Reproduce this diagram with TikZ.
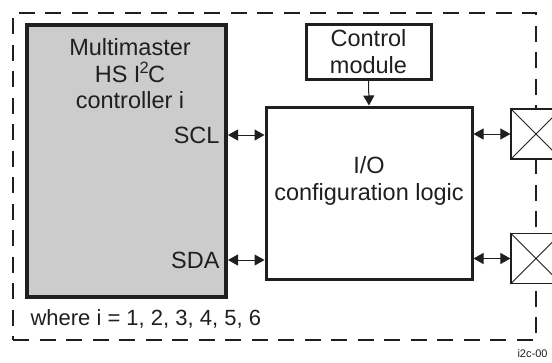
\documentclass[tikz,border=0pt]{standalone}
\usepackage{fontspec}
\setmainfont{Liberation Sans}
\usepackage{tikz}
\usetikzlibrary{arrows.meta, positioning}

\begin{document}
\begin{tikzpicture}[
    x=1pt, y=-1pt,
    font=\fontsize{23.5}{26.5}\selectfont,
    text=black!88,
    block/.style={draw=black!88, line width=3pt, minimum width=#1, inner sep=0pt},
    pad/.style={draw=black!88, fill=white, line width=1.2pt, minimum width=50pt,
        minimum height=50pt, inner sep=0pt},
    biarrow/.style={{Triangle[length=10pt,width=11pt]}-{Triangle[length=10pt,width=11pt]},
        line width=1pt, draw=black!88},
    arrow/.style={-{Triangle[length=10pt,width=11pt]}, line width=1pt, draw=black!88}
]
\useasboundingbox (0,0) rectangle (552,362);

% Dashed boundary
\node[draw=black!88, line width=1.8pt, dash pattern=on 16pt off 10.5pt,
    minimum width=523pt, minimum height=327pt] (frame) at (274.5,176.5) {};

% Controller
\node[block=199pt, line width=4pt, fill=black!20, minimum height=272pt] (ctrl) at (126.5,161) {};
\node[align=center] (ctrltxt) at (130,74) {Multimaster\\HS I\kern-1pt\textsuperscript{2}\kern-1ptC\\controller i};
\node[anchor=east] (scl) at (223,135) {SCL};
\node[anchor=east] (sda) at (223,260) {SDA};

% Control module and I/O logic
\node[block=125pt, minimum height=55pt, align=center] (ctrlmod) at (368.5,51.5) {Control\\module};
\node[block=206pt, minimum height=172pt] (io) at (369,193) {};
\node[align=center] (iotxt) at (369,181) {I/O\\configuration logic};

% Pads
\node[pad] (padA) at (536,134) {};
\node[pad] (padB) at (536,258.5) {};
\draw[line width=1pt, draw=black!88] (padA.north west) -- (padA.south east) (padA.south west) -- (padA.north east);
\draw[line width=1pt, draw=black!88] (padB.north west) -- (padB.south east) (padB.south west) -- (padB.north east);

% Connections
\draw[arrow] (ctrlmod.south) -- (io.north);
\draw[biarrow] (ctrl.east |- scl) -- (io.west |- scl);
\draw[biarrow] (ctrl.east |- sda) -- (io.west |- sda);
\draw[biarrow] (io.east |- padA) -- (padA.west);
\draw[biarrow] (io.east |- padB) -- (padB.west);

% Notes
\node[anchor=west, font=\fontsize{22}{26}\selectfont] (note) at (27,319) {where i = 1, 2, 3, 4, 5, 6};
\node[anchor=west, font=\fontsize{11}{13}\selectfont] (figid) at (514,354) {i2c-00};

\end{tikzpicture}
\end{document}
